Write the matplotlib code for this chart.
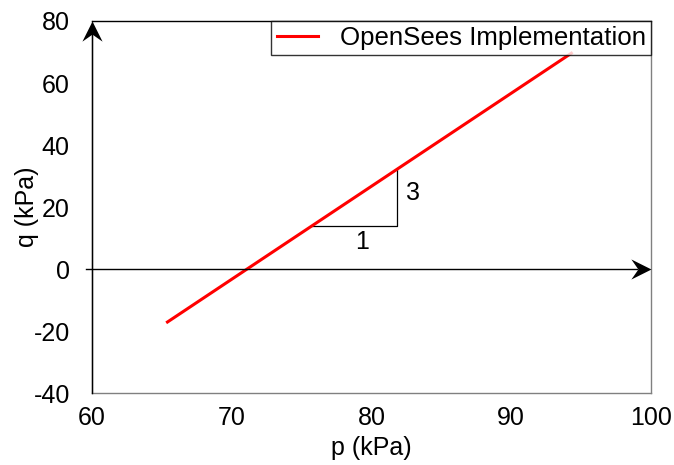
import matplotlib
matplotlib.use("Agg")
import matplotlib.pyplot as plt
from matplotlib.path import Path

plt.rcParams['font.family'] = ['Liberation Sans', 'DejaVu Sans']
plt.rcParams['axes.unicode_minus'] = False

# Critical state line in p-q space
p_vals = [65.4, 94.3]
q_vals = [-17.1, 69.6]

# Slope triangle (run 1 : rise 3)
tri_p = [75.7, 81.8, 81.8]
tri_q = [13.9, 13.9, 32.2]

x_ticks = [60, 70, 80, 90, 100]
y_ticks = [-40, -20, 0, 20, 40, 60, 80]

FS = 18
LEG_FS = 18.6

fig = plt.figure(figsize=(6.74, 4.65), dpi=100)
ax = fig.add_axes([92 / 674, 1 - 393 / 465, (651 - 92) / 674, (393 - 21) / 465])

ax.plot(p_vals, q_vals, color='red', lw=2.2, label='OpenSees Implementation', zorder=3)
ax.plot(tri_p, tri_q, color='black', lw=0.9, zorder=2)
ax.text(79.3, 8.8, '1', fontsize=FS, ha='center', va='center')
ax.text(83.0, 24.5, '3', fontsize=FS, ha='center', va='center')

ax.set_xlim(60, 100)
ax.set_ylim(-40, 80)
ax.set_xticks(x_ticks)
ax.set_yticks(y_ticks)
ax.tick_params(axis='x', length=0, labelsize=FS, pad=9)
ax.tick_params(axis='y', length=0, labelsize=FS, pad=16)
ax.set_xlabel('p (kPa)', fontsize=FS, labelpad=5)
ax.set_ylabel('q (kPa)', fontsize=FS, labelpad=-4)

for side in ['left', 'bottom', 'right']:
    ax.spines[side].set_color('#808080')
ax.spines['top'].set_color('black')
for s in ax.spines.values():
    s.set_linewidth(1.0)

# Axis lines with notched arrowheads
def head(vertices):
    return Path(vertices, [Path.MOVETO, Path.LINETO, Path.LINETO, Path.LINETO, Path.CLOSEPOLY])

right_head = head([(0, 0), (-1.0, 0.5), (-0.65, 0), (-1.0, -0.5), (0, 0)])
up_head = head([(0, 0), (0.5, -1.0), (0, -0.65), (-0.5, -1.0), (0, 0)])

ax.plot([60, 60], [-40, 78], color='black', lw=1.0, clip_on=False, zorder=4)
ax.plot([59.6, 99.0], [0, 0], color='black', lw=1.0, clip_on=False, zorder=4)
ax.plot([60], [80], marker=up_head, markersize=29, color='black',
        markeredgewidth=0, clip_on=False, zorder=5)
ax.plot([100], [0], marker=right_head, markersize=29, color='black',
        markeredgewidth=0, clip_on=False, zorder=5)

leg = ax.legend(loc='upper right', fontsize=LEG_FS, frameon=True, fancybox=False,
                borderaxespad=0, handlelength=1.6, borderpad=0.2,
                handletextpad=0.85)
leg.get_frame().set_edgecolor('black')
leg.get_frame().set_linewidth(1.0)

fig.savefig('out.png', dpi=100)
